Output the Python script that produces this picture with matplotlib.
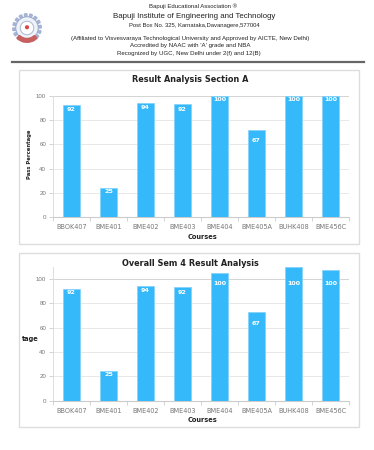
import matplotlib
matplotlib.use("Agg")
import matplotlib.pyplot as plt
from matplotlib.patches import Rectangle, Circle, Wedge
from matplotlib.lines import Line2D

W, H = 374, 450

courses = ['BBOK407', 'BME401', 'BME402', 'BME403', 'BME404', 'BME405A', 'BUHK408', 'BME456C']
section_a_heights = [92, 24.5, 94, 93, 100, 72, 100, 100]
overall_heights = [92, 24.5, 94, 93.5, 105, 73, 110, 107]
pass_labels = [92, 25, 94, 92, 100, 67, 100, 100]
y_ticks = [0, 20, 40, 60, 80, 100]

header_lines = [
    ("Bapuji Educational Association \u00ae", 6, 4.3, 193),
    ("Bapuji Institute of Engineering and Technology", 16, 5.7, 194),
    ("Post Box No. 325, Karnataka,Davanagere,577004", 25, 4.2, 194),
    ("(Affiliated to Visvesvaraya Technological University and Approved by AICTE, New Delhi)", 38.5, 4.4, 190),
    ("Accredited by NAAC with 'A' grade and NBA", 46, 4.4, 190),
    ("Recognized by UGC, New Delhi under 2(f) and 12(B)", 53.5, 4.4, 189),
]

BAR = '#36b9fa'
EDGE = '#86d3fb'
GRID = '#e8e8e8'
TXT = '#777777'

plt.rcParams['font.family'] = ['Liberation Sans', 'DejaVu Sans']

fig = plt.figure(figsize=(W / 100, H / 100), dpi=100)
fig.patch.set_facecolor('white')


def fx(x):
    return x / W


def fy(y):
    return 1 - y / H


# header text
for txt, y, size, x in header_lines:
    fig.text(fx(x), fy(y), txt, ha='center', va='center', fontsize=size,
             color='#222222')

# logo (simple emblem)
logo = fig.add_axes([fx(12), fy(43), 30 / W, 30 / H])
logo.set_xlim(-1, 1)
logo.set_ylim(-1, 1)
logo.set_aspect('equal')
logo.axis('off')
for i in range(16):
    logo.add_patch(Wedge((0, 0), 0.95, i * 22.5, i * 22.5 + 11, width=0.2,
                         color='#a6b4d4'))
logo.add_patch(Circle((0, 0), 0.75, fc='#eef2f9', ec='#97a8cc', lw=0.7))
logo.add_patch(Circle((0, 0), 0.45, fc='white', ec='#aab6d0', lw=0.7))
logo.add_patch(Circle((0, 0.05), 0.14, fc='#d84a4a', ec='none'))
logo.add_patch(Wedge((0, 0), 0.95, 225, 315, width=0.25, color='#c86060'))

# separator line
fig.add_artist(Line2D([fx(12), fx(364)], [fy(62), fy(62)], color='#666666', lw=1.6))

# panel boxes
for top, bot in [(70, 244), (253, 427)]:
    fig.add_artist(Rectangle((fx(19), fy(bot)), (359 - 19) / W, (bot - top) / H,
                             fill=False, ec='#dddddd', lw=1.0))


def draw_chart(heights, ytop_px, y0_px, ymax, title, title_y, xlabel_y, ylabel_mode):
    left, right = 53, 349
    ax = fig.add_axes([fx(left), fy(y0_px), (right - left) / W, (y0_px - ytop_px) / H])
    x = list(range(len(courses)))
    ax.bar(x, heights, width=0.47, color=BAR, edgecolor=EDGE, linewidth=0.6, zorder=3)
    ax.set_xlim(-0.5, len(courses) - 0.5)
    ax.set_ylim(0, ymax)
    ax.set_yticks(y_ticks)
    ax.set_yticklabels([str(v) for v in y_ticks])
    ax.set_xticks(x)
    ax.set_xticklabels(courses, family='DejaVu Sans')
    ax.tick_params(axis='x', length=0, labelsize=4.7, labelcolor=TXT, pad=5)
    ax.tick_params(axis='y', length=3, width=0.6, color='#cccccc', labelsize=4.4,
                   labelcolor=TXT, pad=2)
    # category boundary ticks
    ax.set_xticks([i - 0.5 for i in range(len(courses) + 1)], minor=True)
    ax.tick_params(axis='x', which='minor', length=3, width=0.6, color='#cccccc')
    for v in y_ticks:
        ax.axhline(v, color=GRID if v < 100 else '#d4d4d4', lw=0.7, zorder=1)
    for s in ['top', 'right']:
        ax.spines[s].set_visible(False)
    ax.spines['left'].set_color('#dddddd')
    ax.spines['left'].set_linewidth(0.7)
    ax.spines['bottom'].set_color('#cccccc')
    ax.spines['bottom'].set_linewidth(0.8)
    ax.set_facecolor('white')
    for xi, lab in zip(x, pass_labels):
        ax.annotate(str(lab), (xi, lab), xytext=(0, -4.2), textcoords='offset pixels',
                    ha='center', va='center', fontsize=4.6, fontweight='bold',
                    color='white', zorder=4, family='DejaVu Sans')
    fig.text(fx(190), fy(title_y), title, ha='center', va='center', fontsize=5.9,
             fontweight='bold', color='#222222', family='DejaVu Sans')
    fig.text(fx(202), fy(xlabel_y), 'Courses', ha='center', va='center', fontsize=4.8,
             fontweight='bold', color='#222222', family='DejaVu Sans')
    if ylabel_mode == 'full':
        fig.text(fx(29), fy((ytop_px + y0_px) / 2 - 2), 'Pass Percentage', rotation=90,
                 ha='center', va='center', fontsize=3.8, fontweight='bold',
                 color='#222222', family='DejaVu Sans')
    else:
        fig.text(fx(30), fy(339), 'tage', ha='center', va='center', fontsize=4.8,
                 fontweight='bold', color='#222222', family='DejaVu Sans')
    return ax


draw_chart(section_a_heights, 95.7, 217.3, 100, 'Result Analysis Section A', 80, 236.7, 'full')
draw_chart(overall_heights, 266.8, 400.7, 110, 'Overall Sem 4 Result Analysis', 263, 420, 'short')

fig.savefig('out.png', dpi=100, facecolor='white')
